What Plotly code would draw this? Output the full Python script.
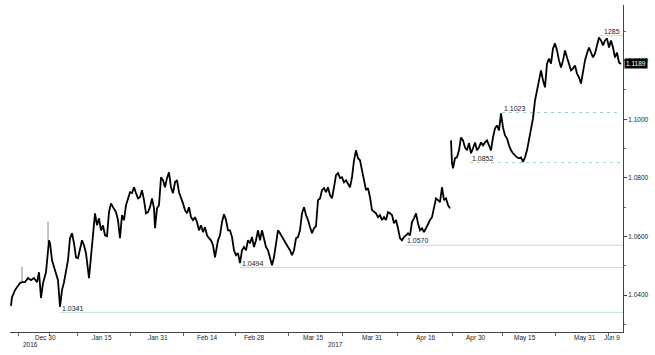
import plotly.graph_objects as go

# time index (trading-session units) and EUR/USD close
t = [11,12,15,18,20,22,25,28,31,34,37,39,41,43,46,49,50,52,54,56,58,60,62,64,66,68,70,72,74,76,78,80,82,84,86,89,91,93,95,97,99,101,103,105,107,109,111,113,116,118,120,122,124,126,128,130,132,134,136,138,140,142,144,146,148,150,152,154,155,157,159,161,163,165,167,169,171,173,175,177,179,181,183,185,187,189,191,193,195,197,199,201,203,205,207,209,211,213,215,218,220,222,224,226,228,230,232,234,236,238,240,242,244,246,248,250,252,254,256,258,260,262,264,266,268,270,272,274,276,278,280,282,284,286,288,290,292,294,296,298,300,302,304,306,308,310,312,314,316,318,320,322,324,326,328,330,332,334,336,338,340,342,344,346,348,350,352,354,356,358,360,362,364,366,368,370,372,374,376,378,380,382,384,386,388,390,392,394,396,398,400,402,404,406,408,410,412,414,416,418,420,422,424,426,428,430,432,434,436,438,440,442,444,446,448,450,
     None,
     451,452,453,455,457,459,461,463,465,467,469,471,473,475,477,479,481,483,485,487,489,491,493,495,497,499,501,503,505,507,509,511,513,515,517,519,521,523,525,527,529,531,533,535,537,539,541,543,545,547,549,551,553,555,557,559,561,563,565,567,569,571,573,575,577,579,581,583,585,587,589,591,593,595,597,599,601,603,605,607,609,611,613,615,617,619,621]
price = [1.0363,1.0393,1.0417,1.0434,1.0441,1.0444,1.0444,1.0458,1.0451,1.0458,1.0444,1.0478,1.0390,1.0441,1.0478,1.0587,1.0577,1.0519,1.0495,1.0468,1.0451,1.0360,1.0417,1.0444,1.0478,1.0519,1.0594,1.0611,1.0577,1.0529,1.0526,1.0553,1.0587,1.0570,1.0543,1.0458,1.0529,1.0598,1.0679,1.0638,1.0662,1.0621,1.0638,1.0604,1.0601,1.0683,1.0713,1.0700,1.0683,1.0656,1.0594,1.0673,1.0656,1.0707,1.0734,1.0751,1.0748,1.0768,1.0748,1.0730,1.0734,1.0758,1.0724,1.0679,1.0683,1.0700,1.0730,1.0696,1.0628,1.0696,1.0707,1.0802,1.0792,1.0768,1.0799,1.0819,1.0768,1.0748,1.0785,1.0792,1.0751,1.0734,1.0713,1.0690,1.0679,1.0700,1.0666,1.0656,1.0666,1.0649,1.0621,1.0638,1.0615,1.0632,1.0604,1.0594,1.0587,1.0570,1.0529,1.0587,1.0604,1.0649,1.0676,1.0656,1.0621,1.0621,1.0598,1.0553,1.0536,1.0543,1.0509,1.0553,1.0564,1.0553,1.0587,1.0577,1.0598,1.0564,1.0587,1.0621,1.0587,1.0621,1.0587,1.0564,1.0553,1.0529,1.0502,1.0529,1.0577,1.0621,1.0611,1.0598,1.0587,1.0577,1.0564,1.0553,1.0536,1.0553,1.0594,1.0598,1.0621,1.0679,1.0700,1.0673,1.0656,1.0632,1.0611,1.0628,1.0635,1.0724,1.0730,1.0758,1.0765,1.0751,1.0768,1.0741,1.0730,1.0768,1.0809,1.0816,1.0799,1.0802,1.0785,1.0792,1.0782,1.0768,1.0802,1.0860,1.0894,1.0867,1.0860,1.0826,1.0792,1.0758,1.0765,1.0734,1.0690,1.0683,1.0679,1.0666,1.0673,1.0656,1.0666,1.0656,1.0683,1.0679,1.0673,1.0645,1.0656,1.0628,1.0594,1.0587,1.0598,1.0604,1.0611,1.0604,1.0649,1.0662,1.0679,1.0645,1.0621,1.0628,1.0615,1.0628,1.0645,1.0656,1.0666,1.0700,1.0730,1.0724,1.0717,1.0768,1.0724,1.0730,1.0707,1.0696,
         None,
         1.0928,1.0850,1.0833,1.0867,1.0870,1.0894,1.0938,1.0928,1.0904,1.0894,1.0918,1.0884,1.0901,1.0921,1.0894,1.0904,1.0921,1.0911,1.0921,1.0928,1.0911,1.0894,1.0938,1.0969,1.0979,1.0962,1.1020,1.0972,1.0945,1.0935,1.0911,1.0894,1.0884,1.0877,1.0870,1.0867,1.0870,1.0855,1.0870,1.0894,1.0928,1.0962,1.1003,1.1064,1.1098,1.1133,1.1167,1.1133,1.1109,1.1190,1.1207,1.1190,1.1242,1.1259,1.1235,1.1201,1.1177,1.1201,1.1235,1.1211,1.1184,1.1167,1.1173,1.1184,1.1156,1.1143,1.1122,1.1167,1.1201,1.1225,1.1245,1.1228,1.1211,1.1225,1.1252,1.1279,1.1269,1.1252,1.1269,1.1276,1.1245,1.1269,1.1245,1.1211,1.1228,1.1194,1.1189]

# thin wicks
wick_t = [22, 22, None, 48, 48]
wick_p = [1.0444, 1.0497, None, 1.0580, 1.0651]

# date axis
label_t = [45, 102, 158, 207, 254, 313, 372, 426, 476, 525, 585, 612]
label_text = ["Dec 30", "Jan 15", "Jan 31", "Feb 14", "Feb 28", "Mar 15", "Mar 31",
              "Apr 16", "Apr 30", "May 15", "May 31", "Jun 9"]
tick_t = [18, 49, 77, 130, 183, 235, 288, 342, 397, 452, 502, 555, 608]
year_t = [30, 335]
year_text = ["2016", "2017"]

# support / resistance levels: (level, start, dashed, label, label_t)
levels = [
    (1.0341, 60, False, "1.0341", 60),
    (1.0494, 240, False, "1.0494", 240),
    (1.0570, 405, False, "1.0570", 405),
    (1.0852, 470, True, "1.0852", 470),
    (1.1023, 502, True, "1.1023", 502),
    (1.1285, 600, False, "1285", 602),
]
last_price = 1.1189
x_end = 623

fig = go.Figure()
for lvl, start, dashed, lab, lt in levels:
    fig.add_trace(go.Scatter(
        x=[start, x_end if not dashed else 620], y=[lvl, lvl], mode="lines",
        line=dict(color="#9fd3c0" if dashed else "#bfe0d3", width=1,
                  dash="3px,4px" if dashed else "solid"),
        hoverinfo="skip", showlegend=False))
fig.add_trace(go.Scatter(x=wick_t, y=wick_p, mode="lines",
                         line=dict(color="#888888", width=1), showlegend=False))
fig.add_trace(go.Scatter(x=t, y=price, mode="lines", connectgaps=False,
                         line=dict(color="black", width=1.8), showlegend=False))

ann = []
for lvl, start, dashed, lab, lt in levels:
    ann.append(dict(x=lt, y=lvl, xref="x", yref="y", text=lab, showarrow=False,
                    xanchor="left", yanchor="bottom", yshift=-1 if lab != "1.0341" else -2,
                    font=dict(size=7, color="#222222", family="Liberation Sans")))
for lx, lt_ in zip(label_t, label_text):
    ann.append(dict(x=lx, y=0, xref="x", yref="paper", text=lt_, showarrow=False,
                    xanchor="center", yanchor="top", yshift=0,
                    font=dict(size=6.5, color="#222222", family="Liberation Sans")))
for yx, yt in zip(year_t, year_text):
    ann.append(dict(x=yx, y=0, xref="x", yref="paper", text=yt, showarrow=False,
                    xanchor="center", yanchor="top", yshift=-7,
                    font=dict(size=6.5, color="#222222", family="Liberation Sans")))
ann.append(dict(x=x_end, y=last_price, xref="x", yref="y", text=f"{last_price:.4f}",
                showarrow=False, xanchor="left", yanchor="middle", xshift=1,
                bgcolor="black", borderpad=1,
                font=dict(size=6.5, color="white", family="Liberation Sans")))

fig.update_layout(
    width=655, height=355,
    margin=dict(l=10, r=32, t=5, b=23),
    paper_bgcolor="white", plot_bgcolor="white",
    annotations=ann,
    xaxis=dict(range=[10, x_end], showgrid=False, zeroline=False,
               showline=True, linecolor="#444444", linewidth=1,
               tickmode="array", tickvals=tick_t, ticktext=[""] * len(tick_t),
               ticks="outside", ticklen=3, tickcolor="#666666"),
    yaxis=dict(range=[1.0274, 1.139], side="right", showgrid=False, zeroline=False,
               showline=True, linecolor="#444444", linewidth=1,
               dtick=0.02, tick0=1.0, tickformat=".4f", ticks="outside", ticklen=3,
               tickcolor="#444444",
               minor=dict(dtick=0.01, ticks="outside", ticklen=2, tickcolor="#666666"),
               tickfont=dict(size=6.5, color="#222222", family="Liberation Sans")),
)
fig.write_html("out.html")
